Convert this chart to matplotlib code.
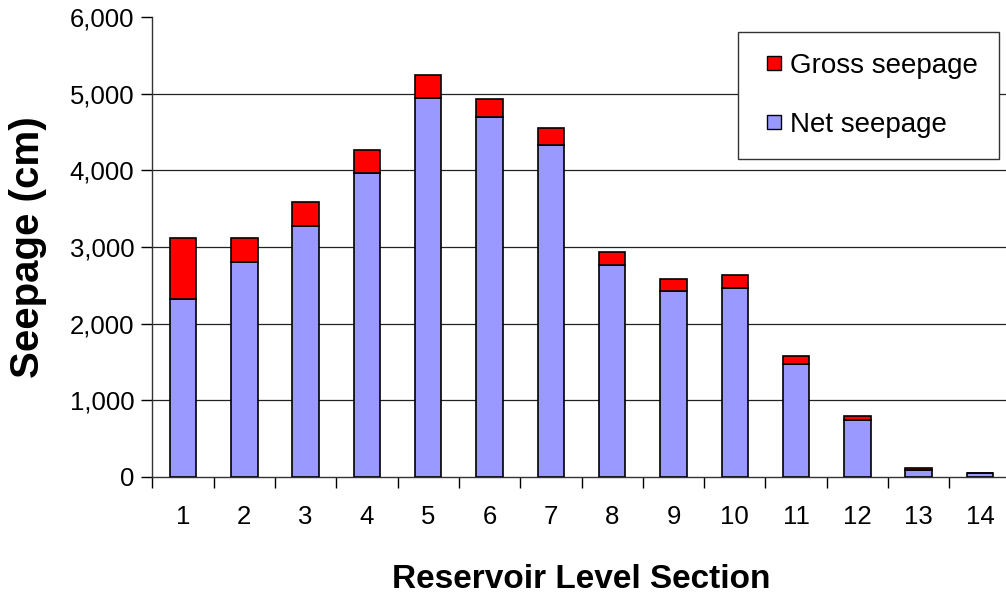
import matplotlib.pyplot as plt
from matplotlib.lines import Line2D
from matplotlib.ticker import FuncFormatter

# data
sections = [1, 2, 3, 4, 5, 6, 7, 8, 9, 10, 11, 12, 13, 14]
net_seepage = [2320, 2800, 3280, 3970, 4940, 4700, 4330, 2760, 2420, 2470, 1470, 745, 88, 50]
gross_seepage = [3120, 3120, 3590, 4260, 5250, 4935, 4550, 2940, 2580, 2635, 1580, 800, 122, 55]

red_part = [g - n for g, n in zip(gross_seepage, net_seepage)]

plt.rcParams['font.family'] = ['Liberation Sans', 'DejaVu Sans']

fig = plt.figure(figsize=(10.06, 5.96), dpi=100)
ax = fig.add_axes([152.4 / 1006, 1 - 477 / 596, 858.2 / 1006, 460 / 596])

w = 0.43
ax.bar(sections, net_seepage, width=w, color='#9999FF', edgecolor='black',
       linewidth=1.2, zorder=3)
ax.bar(sections, red_part, width=w, bottom=net_seepage, color='#FF0000',
       edgecolor='black', linewidth=1.2, zorder=3)

# gridlines (not at the top)
for yv in [1000, 2000, 3000, 4000, 5000]:
    ax.axhline(yv, color='#222222', linewidth=0.9, zorder=1)

ax.set_ylim(0, 6000)
ax.set_xlim(0.5, 14.5)
ax.set_yticks(range(0, 6001, 1000))
ax.yaxis.set_major_formatter(FuncFormatter(lambda v, p: f"{int(v):,}"))
ax.set_xticks(sections)
ax.set_xticks([s + 0.5 for s in range(0, 15)], minor=True)
ax.tick_params(axis='x', which='major', length=0, pad=20, labelsize=18.5)
ax.tick_params(axis='x', which='minor', length=8, width=1, direction='out')
ax.tick_params(axis='y', length=8, width=1, direction='out', pad=5, labelsize=18.5)

for side in ['top', 'right']:
    ax.spines[side].set_visible(False)
for side in ['left', 'bottom']:
    ax.spines[side].set_color('#333333')
    ax.spines[side].set_linewidth(1)

ax.set_xlabel('Reservoir Level Section', fontsize=24, fontweight='bold', labelpad=25)
ax.set_ylabel('Seepage (cm)', fontsize=29, fontweight='bold', labelpad=16)

handles = [
    Line2D([], [], linestyle='none', marker='s', markersize=10,
           markerfacecolor='#FF0000', markeredgecolor='black', markeredgewidth=1),
    Line2D([], [], linestyle='none', marker='s', markersize=10,
           markerfacecolor='#9999FF', markeredgecolor='black', markeredgewidth=1),
]
leg = ax.legend(handles, ['Gross seepage', 'Net seepage'], loc='upper right',
                bbox_to_anchor=(0.9865, 0.968), fontsize=20, frameon=True,
                fancybox=False, edgecolor='#333333', framealpha=1,
                handlelength=1.1, handletextpad=0.05,
                labelspacing=1.2, borderpad=0.75, borderaxespad=0)
leg.get_frame().set_linewidth(1)

fig.savefig('out.png', dpi=100)
